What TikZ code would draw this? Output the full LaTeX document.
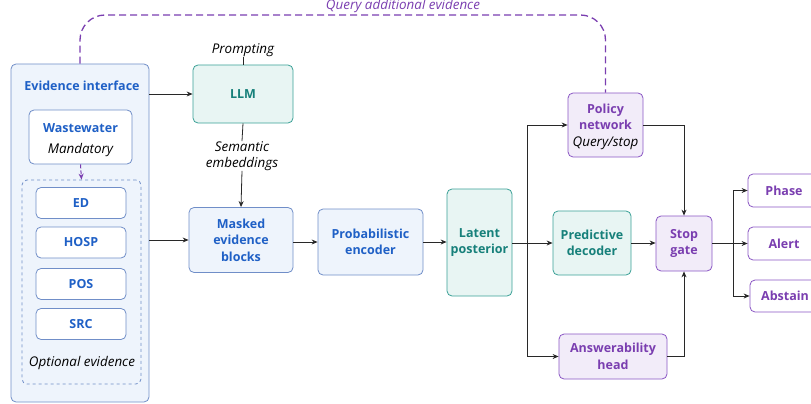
\documentclass[tikz,border=0pt]{standalone}
\usepackage{fontspec}
\setmainfont{Open Sans}
\usetikzlibrary{arrows.meta, positioning, calc}

\definecolor{bluetxt}{RGB}{31,96,198}
\definecolor{bluedraw}{RGB}{112,142,200}
\definecolor{bluefill}{RGB}{238,244,252}
\definecolor{tealtxt}{RGB}{22,128,122}
\definecolor{tealdraw}{RGB}{58,160,150}
\definecolor{tealfill}{RGB}{232,245,243}
\definecolor{purptxt}{RGB}{122,62,176}
\definecolor{purpdraw}{RGB}{138,86,196}
\definecolor{purpfill}{RGB}{242,236,249}
\definecolor{linegray}{RGB}{40,40,40}

\newcommand{\boldfont}{\fontsize{12.5}{16.5}\selectfont\bfseries}
\newcommand{\notefont}{\fontsize{13.4}{16.5}\selectfont\itshape}

\begin{document}
\begin{tikzpicture}[x=1pt, y=-1pt, >={Stealth[length=6pt,width=5pt]},
  every node/.style={font=\boldfont, inner sep=0pt, align=center},
  box/.style={draw, rounded corners=5pt, line width=0.8pt},
  bluebox/.style={box, draw=bluedraw, fill=bluefill, text=bluetxt},
  tealbox/.style={box, draw=tealdraw, fill=tealfill, text=tealtxt},
  purpbox/.style={box, draw=purpdraw, fill=purpfill, text=purptxt},
  srcbox/.style={bluebox, fill=white, minimum width=90pt, minimum height=31pt},
  outbox/.style={purpbox, fill=white, minimum width=72pt, minimum height=33pt},
  note/.style={font=\notefont},
  link/.style={draw=linegray, line width=0.8pt},
  qline/.style={draw=purptxt, line width=1.3pt, dash pattern=on 7pt off 4pt}]

\clip (0,0) rectangle (811,404);

% Evidence interface
\node[bluebox, minimum width=138pt, minimum height=338pt] (evid) at (80,233) {};
\node[text=bluetxt] (evidtitle) at (82,86) {Evidence interface};
\node[bluebox, fill=white, minimum width=103pt, minimum height=54pt] (waste) at (80.5,137) {};
\node[text=bluetxt] (wastename) at (80.5,128) {Wastewater};
\node[note] (mandatory) at (80.5,150) {Mandatory};
\node[draw=bluedraw, dashed, rounded corners=5pt, line width=0.8pt, minimum width=119pt, minimum height=204pt] (opt) at (81.5,282) {};
\node[srcbox] (ed) at (81,203) {ED};
\node[srcbox] (hosp) at (81,242.5) {HOSP};
\node[srcbox] (pos) at (81,284) {POS};
\node[srcbox] (srcb) at (81,324) {SRC};
\node[note] (optname) at (82,363) {Optional evidence};
\draw[qline, ->, line width=1pt, dash pattern=on 4pt off 2pt] (waste.south) -- (opt.north);

% LLM branch
\node[tealbox, minimum width=100pt, minimum height=58pt] (llm) at (243,94) {LLM};
\node[note] (prompting) at (243,50) {Prompting};
\node[note] (semantic) at (242,156) {Semantic\\embeddings};
\draw[link] (prompting.south) -- (llm.north);
\draw[link] (llm.south) -- (semantic.north);

% Main path
\node[bluebox, minimum width=104pt, minimum height=65pt] (masked) at (241,240) {Masked\\evidence\\blocks};
\node[bluebox, minimum width=105pt, minimum height=66pt] (encoder) at (370.5,242) {Probabilistic\\encoder};
\node[tealbox, minimum width=65pt, minimum height=107pt] (latent) at (479.5,242.5) {Latent\\posterior};
\coordinate (lsplit) at (527,243);

% Heads
\node[purpbox, minimum width=75pt, minimum height=64pt] (policy) at (605.5,125) {};
\node[text=purptxt] (policyname) at (605.5,117) {Policy\\network};
\node[note] (querystop) at (605.5,143) {Query/stop};
\node[tealbox, minimum width=78pt, minimum height=64pt] (pred) at (592,243) {Predictive\\decoder};
\node[purpbox, minimum width=108pt, minimum height=45pt] (answer) at (613,356.5) {Answerability\\head};
\node[purpbox, minimum width=56pt, minimum height=55pt] (stop) at (684,243.5) {Stop\\gate};

% Outputs
\coordinate (osplit) at (733,243.5);
\node[outbox] (phase) at (784,190.5) {Phase};
\node[outbox] (alert) at (784,243.5) {Alert};
\node[outbox, minimum width=70pt, minimum height=32pt] (abstain) at (785,296) {Abstain};

% Query loop
\coordinate (qtop) at (340,15);
\draw[qline, rounded corners=25pt] (evid.north) |- (qtop) -| (policy.north);
\node[text=purptxt, font=\notefont] (querylabel) at (403,6) {Query additional evidence};

% Connections
\draw[link, ->] (evid.east |- llm) -- (llm.west);
\draw[link, ->] (evid.east |- masked) -- (masked.west);
\draw[link, ->] (semantic.south) -- (masked.north);
\draw[link, ->] (masked.east |- encoder) -- (encoder.west);
\draw[link, ->] (encoder.east) -- (encoder.east -| latent.west);
\draw[link] (latent.east |- lsplit) -- (lsplit);
\draw[link, ->] (lsplit) |- (policy.west);
\draw[link, ->] (lsplit) -- (pred.west);
\draw[link, ->] (lsplit) |- (answer.west);
\draw[link, ->] (pred.east) -- (pred.east -| stop.west);
\draw[link, ->] (policy.east) -| (stop.north);
\draw[link, ->] (answer.east) -| (stop.south);
\draw[link] (stop.east) -- (osplit);
\draw[link, ->] (osplit) |- (phase.west);
\draw[link, ->] (osplit) -- (alert.west);
\draw[link, ->] (osplit) |- (abstain.west);

\end{tikzpicture}
\end{document}
